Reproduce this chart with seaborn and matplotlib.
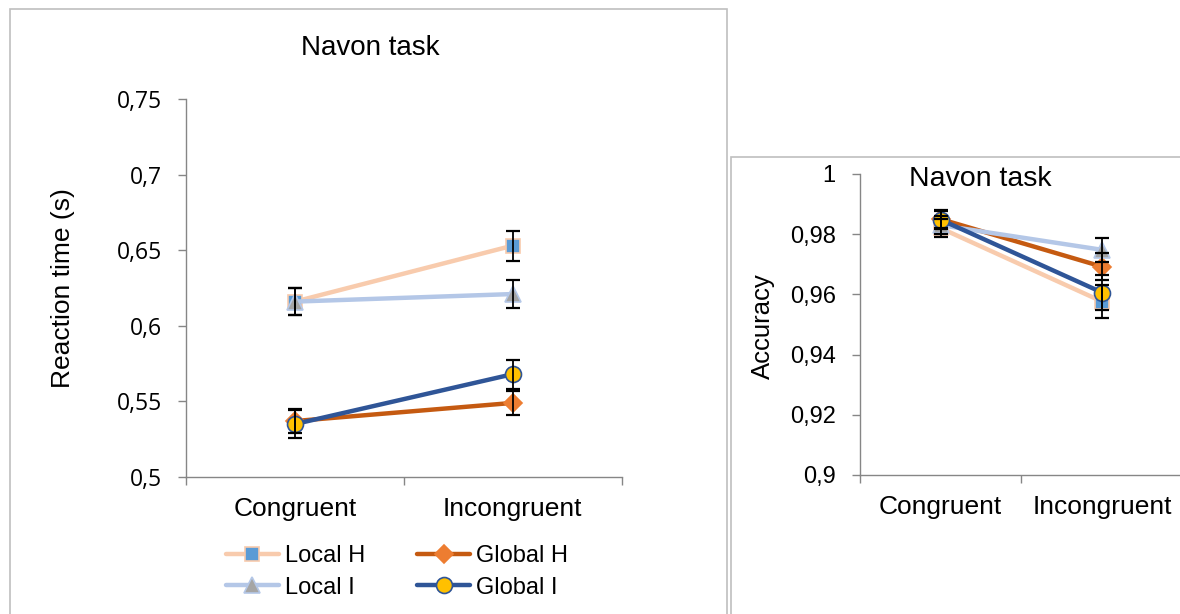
import numpy as np
import pandas as pd
import matplotlib
matplotlib.use("Agg")
import matplotlib.pyplot as plt
import seaborn as sns
from matplotlib.patches import Rectangle
from matplotlib.lines import Line2D

# ---------------- data ----------------
conditions = ["Congruent", "Incongruent"]
series_names = ["Local H", "Global H", "Local I", "Global I"]

rt_local_h = [0.616, 0.653]
rt_global_h = [0.537, 0.549]
rt_local_i = [0.616, 0.621]
rt_global_i = [0.535, 0.568]
rt_local_h_err = [0.009, 0.010]
rt_global_h_err = [0.008, 0.008]
rt_local_i_err = [0.009, 0.009]
rt_global_i_err = [0.009, 0.0095]

acc_local_h = [0.982, 0.9576]
acc_global_h = [0.985, 0.9692]
acc_local_i = [0.983, 0.9748]
acc_global_i = [0.9848, 0.9606]
acc_local_h_err = [0.003, 0.0055]
acc_global_h_err = [0.003, 0.0044]
acc_local_i_err = [0.003, 0.004]
acc_global_i_err = [0.003, 0.0058]

rt_ticks = [0.5, 0.55, 0.6, 0.65, 0.7, 0.75]
rt_tick_labels = ["0,5", "0,55", "0,6", "0,65", "0,7", "0,75"]
acc_ticks = [0.9, 0.92, 0.94, 0.96, 0.98, 1.0]
acc_tick_labels = ["0,9", "0,92", "0,94", "0,96", "0,98", "1"]

rt_values = {"Local H": rt_local_h, "Global H": rt_global_h,
             "Local I": rt_local_i, "Global I": rt_global_i}
rt_errors = {"Local H": rt_local_h_err, "Global H": rt_global_h_err,
             "Local I": rt_local_i_err, "Global I": rt_global_i_err}
acc_values = {"Local H": acc_local_h, "Global H": acc_global_h,
              "Local I": acc_local_i, "Global I": acc_global_i}
acc_errors = {"Local H": acc_local_h_err, "Global H": acc_global_h_err,
              "Local I": acc_local_i_err, "Global I": acc_global_i_err}

styles = {
    "Local H": dict(color="#F8CBAD", marker="s", mfc="#5B9BD5", mec="#F8CBAD", ms=10.5),
    "Global H": dict(color="#C55A11", marker="D", mfc="#ED7D31", mec="#ED7D31", ms=9),
    "Local I": dict(color="#B4C7E7", marker="^", mfc="#A5A5A5", mec="#B4C7E7", ms=11.5),
    "Global I": dict(color="#2F5597", marker="o", mfc="#FFC000", mec="#2F5597", ms=11.5),
}

def long_df(values, errors):
    rows = []
    for s in series_names:
        for i, c in enumerate(conditions):
            rows.append(dict(series=s, cond=c, pos=i, val=values[s][i], err=errors[s][i]))
    return pd.DataFrame(rows)

df_rt = long_df(rt_values, rt_errors)
df_acc = long_df(acc_values, acc_errors)

# ---------------- figure ----------------
sns.set_theme(style="white")
plt.rcParams["font.family"] = ["Liberation Sans", "DejaVu Sans"]
plt.rcParams["text.color"] = "black"
plt.rcParams["xtick.color"] = "black"
plt.rcParams["ytick.color"] = "black"

W, H = 1180, 614
fig = plt.figure(figsize=(W / 100, H / 100), dpi=100)

def fx(px):
    return px / W

def fy(py):
    return 1 - py / H

# panel borders
border_col = "#BFBFBF"
fig.patches.append(Rectangle((fx(10), fy(640)), fx(727) - fx(10), fy(9) - fy(640),
                             transform=fig.transFigure, fill=False, ec=border_col, lw=1.2))
fig.patches.append(Rectangle((fx(731), fy(640)), fx(1200) - fx(731), fy(157) - fy(640),
                             transform=fig.transFigure, fill=False, ec=border_col, lw=1.2))

ax1 = fig.add_axes([fx(186), fy(477), fx(621.5) - fx(186), fy(99) - fy(477)])
ax2 = fig.add_axes([fx(860), fy(475), fx(1183) - fx(860), fy(174) - fy(475)])

def draw(ax, df, ylim, ticks, tick_labels, ytick_font, ytick_size):
    for s in series_names:
        st = styles[s]
        sub = df[df.series == s]
        sns.lineplot(data=sub, x="pos", y="val", ax=ax, color=st["color"], lw=3.2,
                     marker=st["marker"], markersize=st["ms"], markerfacecolor=st["mfc"],
                     markeredgecolor=st["mec"], markeredgewidth=1.2, legend=False,
                     zorder=3, errorbar=None)
        ax.errorbar(sub["pos"], sub["val"], yerr=sub["err"], fmt="none", ecolor="black",
                    elinewidth=1.3, capsize=5, capthick=1.6, zorder=4)
    ax.set_xlim(-0.5, 1.5)
    ax.set_ylim(*ylim)
    ax.set_xticks([-0.5, 0.5, 1.5])
    ax.set_xticklabels([])
    ax.set_xticks([0, 1], minor=True)
    ax.set_xticklabels(conditions, minor=True, fontsize=19)
    ax.tick_params(axis="x", which="minor", bottom=True, length=0, pad=14.5)
    ax.tick_params(axis="x", which="major", bottom=True, length=6, width=1,
                   color="#868686", direction="out")
    ax.set_yticks(ticks)
    ax.set_yticklabels(tick_labels, fontsize=ytick_size, family=ytick_font)
    ax.tick_params(axis="y", left=True, length=6, width=1, color="#868686",
                   direction="out", pad=11.5)
    for sp in ["top", "right"]:
        ax.spines[sp].set_visible(False)
    for sp in ["left", "bottom"]:
        ax.spines[sp].set_color("#868686")
        ax.spines[sp].set_linewidth(1)
    ax.set_xlabel("")
    ax.set_ylabel("")
    ax.set_facecolor("none")

draw(ax1, df_rt, (0.5, 0.75), rt_ticks, rt_tick_labels, ["Open Sans", "DejaVu Sans"], 16.5)
draw(ax2, df_acc, (0.9, 1.0), acc_ticks, acc_tick_labels, ["Liberation Sans", "DejaVu Sans"], 17)

# titles and axis labels
fig.text(fx(370), fy(48), "Navon task", ha="center", va="center", fontsize=20)
fig.text(fx(980), fy(179), "Navon task", ha="center", va="center", fontsize=20.5)
fig.text(fx(63), fy(288), "Reaction time (s)", ha="center", va="center", rotation=90, fontsize=19)
fig.text(fx(763), fy(326), "Accuracy", ha="center", va="center", rotation=90, fontsize=18.5)

# legend
handles = []
for s in series_names:
    st = styles[s]
    handles.append(Line2D([], [], color=st["color"], lw=3.2, marker=st["marker"],
                          markersize=st["ms"], markerfacecolor=st["mfc"],
                          markeredgecolor=st["mec"], markeredgewidth=1.2))
order = [0, 2, 1, 3]
fig.legend([handles[i] for i in order], [series_names[i] for i in order],
           loc="center", bbox_to_anchor=(fx(397), fy(572)), ncol=2, frameon=False,
           fontsize=17, handlelength=2.25, handletextpad=0.25, columnspacing=2.2,
           labelspacing=0.4, borderpad=0)

fig.savefig("out.png", dpi=100)
